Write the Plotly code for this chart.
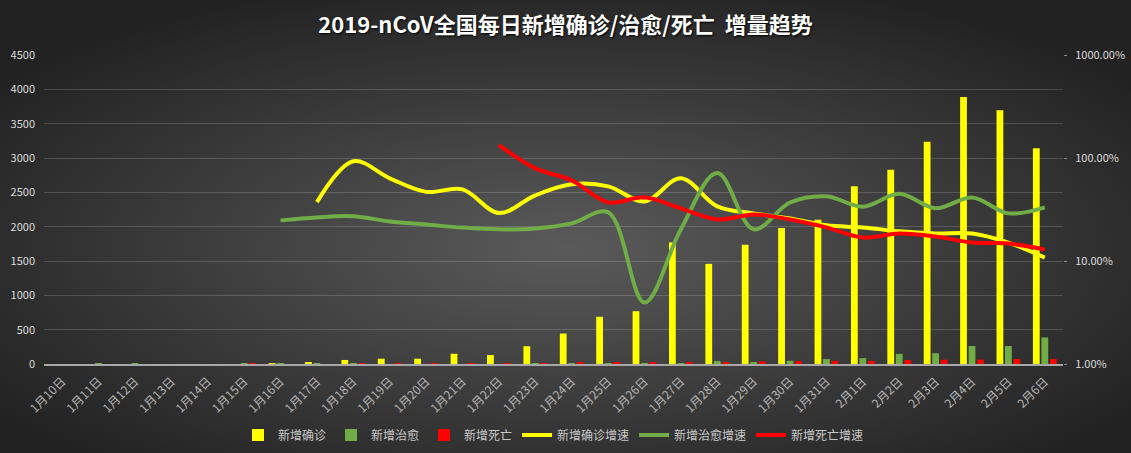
import base64
import plotly.graph_objects as go

categories = ["1月10日", "1月11日", "1月12日", "1月13日", "1月14日", "1月15日", "1月16日",
              "1月17日", "1月18日", "1月19日", "1月20日", "1月21日", "1月22日", "1月23日",
              "1月24日", "1月25日", "1月26日", "1月27日", "1月28日", "1月29日", "1月30日",
              "1月31日", "2月1日", "2月2日", "2月3日", "2月4日", "2月5日", "2月6日"]

new_confirmed = [0, 0, 0, 0, 0, 0, 4, 17, 59, 77, 77, 149, 131, 259, 444, 688, 769,
                 1771, 1459, 1737, 1982, 2102, 2590, 2829, 3235, 3887, 3694, 3143]
new_cured = [0, 3, 3, 0, 0, 4, 5, 3, 2, 0, 0, 0, 0, 6, 4, 11, 2,
             9, 43, 21, 47, 72, 85, 147, 157, 262, 261, 387]
new_death = [0, 0, 0, 0, 0, 2, 0, 0, 1, 1, 2, 3, 8, 8, 16, 15, 24,
             26, 26, 38, 43, 46, 45, 57, 64, 65, 73, 73]

# growth rates in percent (None = no value)
growth_confirmed = [None, None, None, None, None, None, None,
                    37.3, 92.9, 63.5, 46.9, 49.6, 29.2, 43.4, 55.5, 53.0, 37.9,
                    63.5, 33.9, 29.0, 25.9, 22.2, 21.2, 19.4, 18.5, 18.5, 15.1, 10.8]
growth_cured = [None, None, None, None, None, None, 24.8,
                26.5, 27.2, 24.2, 22.6, 21.1, 20.3, 20.7, 23.2, 29.7, 3.95,
                20.3, 71.5, 20.3, 37.0, 42.5, 33.7, 44.9, 32.5, 41.4, 29.0, 33.2]
growth_death = [None, None, None, None, None, None, None,
                None, None, None, None, None, 133.0, 79.4, 60.7, 37.1, 41.5,
                32.4, 25.3, 28.3, 25.3, 21.2, 16.9, 18.5, 17.3, 15.1, 14.8, 12.9]

left_ticks = [0, 500, 1000, 1500, 2000, 2500, 3000, 3500, 4000, 4500]
right_ticks = [0.01, 0.1, 1, 10]
right_labels = ["1.00%", "10.00%", "100.00%", "1000.00%"]

YELLOW = "#FFFF00"
GREEN = "#70AD47"
RED = "#FF0000"
FONT = "Noto Sans CJK SC, Microsoft YaHei, sans-serif"

W, H = 1131, 453
L, R, T, B = 44, 68, 55, 89
pw, ph = W - L - R, H - T - B

def pct(vals):
    return [None if v is None else v / 100.0 for v in vals]

fig = go.Figure()
fig.add_trace(go.Bar(x=categories, y=new_confirmed, name="新增确诊", marker_color=YELLOW,
                     marker_line_width=0))
fig.add_trace(go.Bar(x=categories, y=new_cured, name="新增治愈", marker_color=GREEN,
                     marker_line_width=0))
fig.add_trace(go.Bar(x=categories, y=new_death, name="新增死亡", marker_color=RED,
                     marker_line_width=0))
line_kw = dict(mode="lines", yaxis="y2", line_shape="spline")
fig.add_trace(go.Scatter(x=categories, y=pct(growth_confirmed), name="新增确诊增速",
                         line=dict(color=YELLOW, width=4, smoothing=1.0), **line_kw))
fig.add_trace(go.Scatter(x=categories, y=pct(growth_cured), name="新增治愈增速",
                         line=dict(color=GREEN, width=4, smoothing=1.0), **line_kw))
fig.add_trace(go.Scatter(x=categories, y=pct(growth_death), name="新增死亡增速",
                         line=dict(color=RED, width=4, smoothing=1.0), **line_kw))

svg = ('<svg xmlns="http://www.w3.org/2000/svg" width="1131" height="453">'
       '<defs><radialGradient id="g" cx="50%" cy="55%" r="62%">'
       '<stop offset="0" stop-color="#5a5a5a"/><stop offset="1" stop-color="#222222"/>'
       '</radialGradient></defs><rect width="1131" height="453" fill="url(#g)"/></svg>')
bg_src = "data:image/svg+xml;base64," + base64.b64encode(svg.encode()).decode()

fig.update_layout(
    width=W, height=H,
    margin=dict(l=L, r=R, t=T, b=B, pad=0, autoexpand=False),
    paper_bgcolor="#2a2a2a",
    plot_bgcolor="rgba(0,0,0,0)",
    images=[dict(source=bg_src, xref="paper", yref="paper",
                 x=-L / pw, y=(ph + T) / ph, sizex=W / pw, sizey=H / ph,
                 xanchor="left", yanchor="top", sizing="stretch", layer="below")],
    title=dict(text="<b>2019-nCoV全国每日新增确诊/治愈/死亡  增量趋势</b>",
               x=0.5, xref="container", xanchor="center", y=1 - 25 / H, yref="container",
               yanchor="middle",
               font=dict(family=FONT, size=22, color="#ffffff", shadow="1px 1px 2px #000000")),
    barmode="group", bargap=0.3, bargroupgap=0.2,
    font=dict(family=FONT, color="#d9d9d9"),
    showlegend=True,
    legend=dict(orientation="h", x=0.5, xanchor="center", y=-(435 - 364) / ph,
                yanchor="middle", font=dict(size=12, color="#c8c8c8"),
                bgcolor="rgba(0,0,0,0)", itemwidth=30),
    xaxis=dict(type="category", showgrid=False, showline=True, linecolor="#a8a8a8",
               linewidth=1.5, tickangle=-45, ticks="", automargin=False,
               ticklabelstandoff=4,
               tickfont=dict(size=12, color="#b4b4b4")),
    yaxis=dict(range=[0, 4500], tickvals=left_ticks, showgrid=True,
               gridcolor="rgba(255,255,255,0.16)", gridwidth=1, zeroline=False,
               showline=False, automargin=False, ticklabelstandoff=8,
               tickfont=dict(size=11, color="#dcdcdc")),
    yaxis2=dict(type="log", range=[-2, 1], overlaying="y", side="right",
                tickvals=right_ticks, ticktext=right_labels, showgrid=False,
                zeroline=False, showline=False, automargin=False,
                ticks="outside", ticklen=3, tickcolor="#888888", ticklabelstandoff=6,
                tickfont=dict(size=11, color="#dcdcdc")),
)

fig.write_html("out.html")
